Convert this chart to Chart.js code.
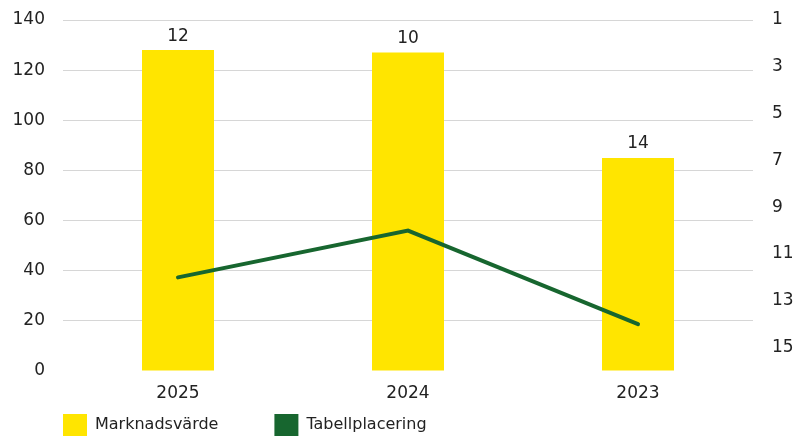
<!DOCTYPE html>
<html>
<head>
<meta charset="utf-8">
<script src="https://cdn.jsdelivr.net/npm/chart.js@4"></script>
<style>
html,body{margin:0;padding:0;background:#fff;}
#wrap{width:795px;height:436px;}
</style>
</head>
<body>
<div id="wrap"><canvas id="c" width="795" height="436"></canvas></div>
<script>
const categories = ['2025', '2024', '2023'];
const marknadsvarde = [128, 127, 85];
const tabellplacering = [12, 10, 14];
const leftTicks = [0, 20, 40, 60, 80, 100, 120, 140];
const rightTicks = [1, 3, 5, 7, 9, 11, 13, 15];

const FONT = 'DejaVu Sans';
const TXT = '#222222';
const YELLOW = '#FFE500';
const GREEN = '#17662F';

// pad the first legend label so the second item sits where it does in the reference
function padLabel(text, targetWidth) {
  const ctx = document.createElement('canvas').getContext('2d');
  ctx.font = '16px "' + FONT + '"';
  let t = text;
  while (ctx.measureText(t + ' ').width <= targetWidth) t += ' ';
  return t;
}

const barLabels = {
  id: 'barLabels',
  afterDatasetsDraw(chart) {
    const meta = chart.getDatasetMeta(0);
    const ctx = chart.ctx;
    ctx.save();
    ctx.font = '17px "' + FONT + '"';
    ctx.fillStyle = TXT;
    ctx.textAlign = 'center';
    ctx.textBaseline = 'middle';
    meta.data.forEach((bar, i) => {
      ctx.fillText(String(tabellplacering[i]), bar.x, bar.y - 14);
    });
    ctx.restore();
  }
};

function vFit(width) {
  return function (s) {
    s.width = width;
    s.paddingTop = 0;
    s.paddingBottom = 0;
  };
}

new Chart(document.getElementById('c'), {
  data: {
    labels: categories,
    datasets: [
      {
        type: 'bar',
        label: 'Marknadsvärde',
        data: marknadsvarde,
        backgroundColor: YELLOW,
        yAxisID: 'y',
        barPercentage: 0.313,
        categoryPercentage: 1,
        order: 2
      },
      {
        type: 'line',
        label: 'Tabellplacering',
        data: tabellplacering,
        borderColor: GREEN,
        backgroundColor: GREEN,
        borderWidth: 4,
        borderCapStyle: 'round',
        pointRadius: 0,
        tension: 0,
        yAxisID: 'y1',
        order: 1
      }
    ]
  },
  options: {
    responsive: false,
    animation: false,
    layout: { padding: { top: 20, left: 0, right: 0, bottom: -10 } },
    plugins: {
      tooltip: { enabled: false },
      legend: {
        position: 'bottom',
        align: 'start',
        fullSize: false,
        labels: {
          boxWidth: 24,
          boxHeight: 22,
          padding: 0,
          color: TXT,
          font: { family: FONT, size: 16 },
          generateLabels(chart) {
            return chart.data.datasets.map((ds, i) => ({
              text: i === 0 ? padLabel(ds.label, 212 - 32) : ds.label,
              fillStyle: i === 0 ? YELLOW : GREEN,
              strokeStyle: i === 0 ? YELLOW : GREEN,
              lineWidth: 0,
              datasetIndex: i,
              fontColor: TXT
            }));
          }
        }
      }
    },
    scales: {
      x: {
        grid: { display: false, drawTicks: false },
        border: { display: false },
        ticks: { color: TXT, font: { family: FONT, size: 17 }, padding: 12 },
        afterFit(s) { s.height = 43; s.paddingLeft = 0; s.paddingRight = 0; }
      },
      y: {
        position: 'left',
        min: 0,
        max: 140,
        afterBuildTicks(s) { s.ticks = leftTicks.map(v => ({ value: v })); },
        grid: {
          drawTicks: false,
          color: c => (c.tick && c.tick.value === 0) ? 'rgba(0,0,0,0)' : '#d6d6d6',
          lineWidth: 1
        },
        border: { display: false },
        ticks: { color: TXT, font: { family: FONT, size: 17 }, padding: 18 },
        afterFit: vFit(63)
      },
      y1: {
        position: 'right',
        reverse: true,
        min: 1,
        max: 16,
        afterBuildTicks(s) { s.ticks = rightTicks.map(v => ({ value: v })); },
        grid: { display: false, drawTicks: false },
        border: { display: false },
        ticks: { color: TXT, font: { family: FONT, size: 17 }, padding: 19 },
        afterFit: vFit(42)
      }
    }
  },
  plugins: [barLabels]
});
</script>
</body>
</html>
